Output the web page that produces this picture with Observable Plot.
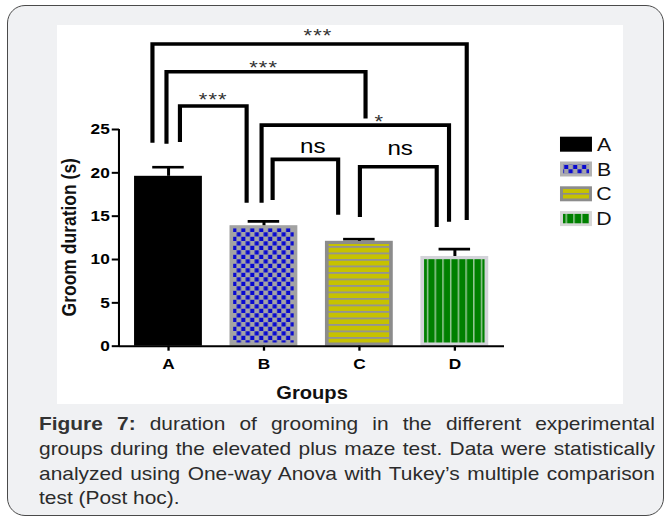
<!DOCTYPE html>
<html>
<head>
<meta charset="utf-8">
<script src="https://cdn.jsdelivr.net/npm/d3@7"></script>
<script src="https://cdn.jsdelivr.net/npm/@observablehq/plot@0.6"></script>
<style>
  html, body { margin: 0; padding: 0; background: #fff; width: 665px; height: 517px; overflow: hidden;
    font-family: "Liberation Sans", Arial, sans-serif; }
  #panel { position: absolute; left: 7px; top: 5px; width: 655px; height: 509px; box-sizing: border-box;
    width: 657px; height: 511px; border: 1.5px solid #4a4a4a; border-radius: 18px; background: #f0f1f3; }
  #chart { position: absolute; left: 57px; top: 25px; width: 566px; height: 379px; background: #fff; overflow: visible; }
  #chart svg { position: absolute; left: 0; top: 0; transform: scaleX(1.15); transform-origin: 0 0; max-width: none; }
  #caption { position: absolute; left: 39.3px; top: 412px; width: 545px; transform: scaleX(1.13); transform-origin: 0 0;
    font-size: 18.5px; line-height: 24.8px; color: #2b2b2b; }
  #caption .ln { text-align: justify; text-align-last: justify; }
  #caption .last { text-align-last: left; }
  #caption b { color: #333; }
</style>
</head>
<body>
<div id="panel"></div>
<div id="chart"></div>
<div id="caption">
  <div class="ln"><b>Figure 7:</b> duration of grooming in the different experimental</div>
  <div class="ln">groups during the elevated plus maze test. Data were statistically</div>
  <div class="ln">analyzed using One-way Anova with Tukey’s multiple comparison</div>
  <div class="ln last">test (Post hoc).</div>
</div>
<script>
// ---- data ----
const groups = ["A", "B", "C", "D"];
const means = [19.6, 13.9, 12.1, 10.35];
const sems = [1.05, 0.5, 0.25, 0.85];
const yTicks = [0, 5, 10, 15, 20, 25];

// significance comparisons (bracket heights in y units)
const compFrom = ["A", "A", "A", "B", "B", "C"];
const compTo = ["D", "C", "B", "D", "C", "D"];
const compLabel = ["***", "***", "***", "*", "ns", "ns"];
const compTop = [34.8, 31.6, 27.65, 25.45, 21.5, 20.65];
const compFromEnd = [23.4, 23.3, 23.5, 16.5, 16.8, 14.85];
const compToEnd = [14.5, 26.2, 16.5, 14.3, 15.1, 13.7];

// ---- styles ----
const barFills = ["#000000", "url(#patB)", "url(#patC)", "url(#patD)"];
const barStrokes = ["#000000", "#a2a2a2", "#8c8c8c", "#d3d3d9"];
const legFromDx = [-13.5, -1.3, 10.4, -1.6, 8, 0.9];
const legToDx = [10.8, 5.8, -14.6, -4.6, -18, -15.3];
const labelDx = [7.3, -2, 0, 20.9, 6.5, 1.6];
const labelLift = [12.6, 9, 10.7, 8.3, 11.6, 16.7];

const data = groups.map((g, i) => ({group: g, mean: means[i], sem: sems[i], fill: barFills[i], stroke: barStrokes[i]}));

function defsMark() {
  const defs = d3.create("svg:defs");
  const pB = defs.append("pattern").attr("id", "patB").attr("patternUnits", "userSpaceOnUse").attr("width", 7.8).attr("height", 9);
  pB.append("rect").attr("width", 7.8).attr("height", 9).attr("fill", "#a4a4a6");
  pB.append("rect").attr("x", 0.3).attr("y", 0.3).attr("width", 3.6).attr("height", 4.2).attr("fill", "#0a0ad0");
  pB.append("rect").attr("x", 4.2).attr("y", 4.8).attr("width", 3.6).attr("height", 4.2).attr("fill", "#0a0ad0");
  const pC = defs.append("pattern").attr("id", "patC").attr("patternUnits", "userSpaceOnUse").attr("width", 10).attr("height", 6.5);
  pC.append("rect").attr("width", 10).attr("height", 6.5).attr("fill", "#c6c200");
  pC.append("rect").attr("width", 10).attr("height", 1.8).attr("fill", "#939393");
  const pD = defs.append("pattern").attr("id", "patD").attr("patternUnits", "userSpaceOnUse").attr("width", 6.7).attr("height", 10);
  pD.append("rect").attr("width", 6.7).attr("height", 10).attr("fill", "#008000");
  pD.append("rect").attr("width", 1.3).attr("height", 10).attr("fill", "#98c898");
  return defs.node();
}

function yAxisLine(index, scales, values, dimensions) {
  const x = dimensions.marginLeft;
  return d3.create("svg:line").attr("x1", x).attr("x2", x)
    .attr("y1", scales.y(0) + 1).attr("y2", scales.y(25))
    .attr("stroke", "#000").attr("stroke-width", 1.8).node();
}

function bracketMark(index, scales, values, dimensions) {
  const bw = scales.x.bandwidth ? scales.x.bandwidth() : 0;
  const cx = g => scales.x(g) + bw / 2;
  const g = d3.create("svg:g");
  compFrom.forEach((from, i) => {
    const x1 = cx(from) + legFromDx[i];
    const x2 = cx(compTo[i]) + legToDx[i];
    const yTop = scales.y(compTop[i]);
    g.append("path")
      .attr("d", `M${x1},${scales.y(compFromEnd[i])}V${yTop}H${x2}V${scales.y(compToEnd[i])}`)
      .attr("fill", "none").attr("stroke", "#000").attr("stroke-width", 3.6)
      .attr("stroke-linejoin", "miter");
    const isStar = compLabel[i].includes("*");
    const fs = isStar ? 19 : 21;
    const cy = yTop - labelLift[i];
    g.append("text")
      .attr("x", (x1 + x2) / 2 + labelDx[i])
      .attr("y", cy + (isStar ? 0.575 : 0.26) * fs)
      .attr("text-anchor", "middle").attr("font-size", fs).attr("font-weight", "normal")
      .attr("letter-spacing", isStar ? 1 : 0)
      .attr("fill", isStar ? "#333" : "#000")
      .text(compLabel[i]);
  });
  return g.node();
}

function legendMark(index, scales, values, dimensions) {
  const g = d3.create("svg:g");
  const lx = dimensions.width - dimensions.marginRight + 48.7;
  const lw = 27.8, lh = 15, step = 24.8;
  const y0 = dimensions.marginTop + 7.7;
  const tx = lx + 38.3;
  const outer = ["#000000", "#b2b2b2", "#8c8c8c", "#d6d6d6"];
  groups.forEach((name, i) => {
    const y = y0 + i * step;
    g.append("rect").attr("x", lx).attr("y", y).attr("width", lw).attr("height", lh).attr("fill", outer[i]);
    if (i === 1) {
      g.append("rect").attr("x", lx + 2.6).attr("y", y + 3).attr("width", lw - 5.2).attr("height", lh - 6).attr("fill", "url(#patB)");
    } else if (i === 2) {
      g.append("rect").attr("x", lx + 2.6).attr("y", y + 2.8).attr("width", lw - 5.2).attr("height", lh - 5.6).attr("fill", "#c6c200");
      g.append("rect").attr("x", lx + 2.6).attr("y", y + lh / 2 - 0.8).attr("width", lw - 5.2).attr("height", 1.6).attr("fill", "#8c8c8c");
    } else if (i === 3) {
      g.append("rect").attr("x", lx + 2.6).attr("y", y + 2.8).attr("width", lw - 5.2).attr("height", lh - 5.6).attr("fill", "url(#patD)");
    }
    g.append("text").attr("x", tx).attr("y", y + lh / 2 + 6.6)
      .attr("font-size", 18.5).attr("font-weight", "normal").attr("fill", "#111").text(name);
  });
  return g.node();
}

const chart = Plot.plot({
  width: 492.2,
  height: 379,
  marginLeft: 53.9,
  marginRight: 103.5,
  marginTop: 104,
  marginBottom: 58.3,
  style: {background: "white", fontFamily: "Liberation Sans, Arial, sans-serif", fontWeight: "bold", overflow: "visible"},
  x: {domain: groups, paddingInner: 0.29, paddingOuter: 0.145, label: null},
  y: {domain: [0, 25], label: null},
  color: {type: "identity"},
  marks: [
    defsMark,
    Plot.barY(data, {x: "group", y: "mean", fill: "fill", stroke: "stroke", strokeWidth: 3.2, inset: 1.6}),
    Plot.ruleX(data, {x: "group", y1: "mean", y2: d => d.mean + d.sem, stroke: "#000", strokeWidth: 2.6}),
    Plot.tickY(data, {x: "group", y: d => d.mean + d.sem, stroke: "#000", strokeWidth: 2.6, insetLeft: 15.8, insetRight: 15.8}),
    Plot.axisY({ticks: yTicks, tickSize: 6.3, tickPadding: 2.2, fontSize: 15, fontWeight: "bold", strokeWidth: 2, label: null}),
    Plot.axisX({tickSize: 5, tickPadding: 7.3, fontSize: 15, fontWeight: "bold", strokeWidth: 2, label: null}),
    Plot.ruleY([0], {stroke: "#000", strokeWidth: 2}),
    yAxisLine,
    Plot.text(["Groom duration (s)"], {frameAnchor: "left", text: d => d, rotate: -90, dx: -43.2, dy: -0.6,
      fontSize: 17.5, fontWeight: "bold", lineAnchor: "middle", textAnchor: "middle", fill: "#111"}),
    Plot.text(["Groups"], {frameAnchor: "bottom", text: d => d, dy: 47.3, fontSize: 17.5, fontWeight: "bold",
      lineAnchor: "middle", textAnchor: "middle", fill: "#111"}),
    bracketMark,
    legendMark
  ]
});
document.getElementById("chart").appendChild(chart);
</script>
</body>
</html>
